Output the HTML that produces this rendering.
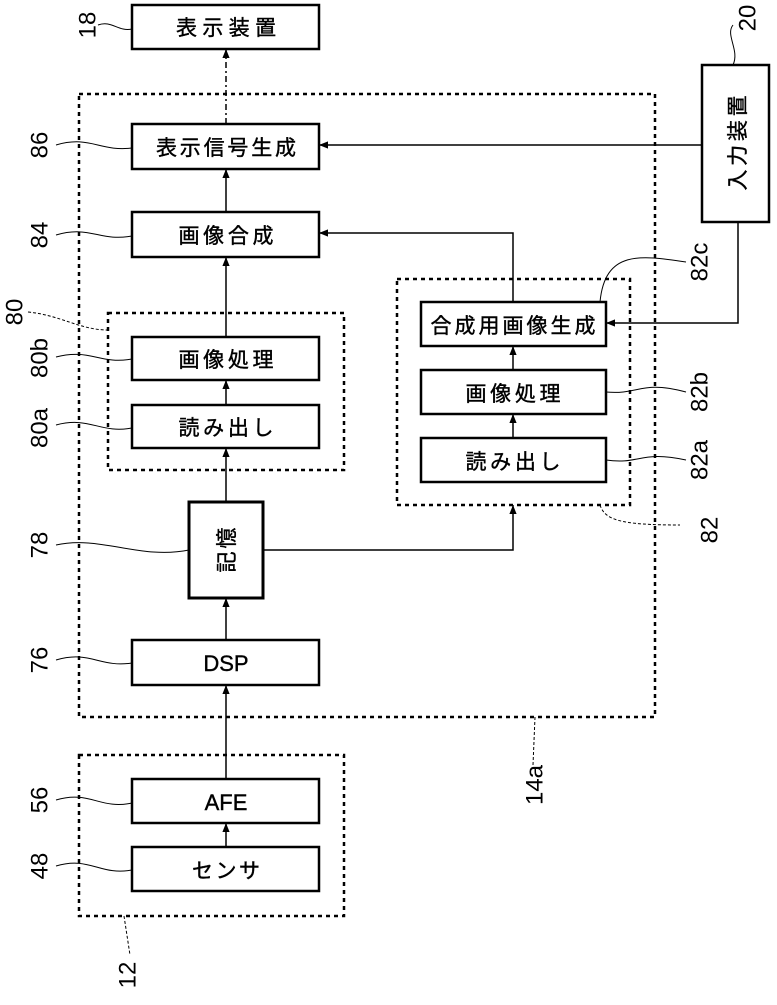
<!DOCTYPE html>
<html><head><meta charset="utf-8"><style>
html,body{margin:0;padding:0;background:#fff;}
svg{display:block;}
text{font-family:"Liberation Sans","Noto Sans CJK JP",sans-serif;fill:#000;}
</style></head><body>
<svg width="777" height="1005" viewBox="0 0 777 1005" xmlns="http://www.w3.org/2000/svg">
<defs>
<marker id="a" viewBox="0 0 10 10" refX="10" refY="5" markerWidth="6" markerHeight="6" orient="auto"><path d="M0,1 L10,5 L0,9 z" fill="#000"/></marker>
</defs>
<g fill="none" stroke="#000">
<rect x="79" y="94" width="576" height="623" stroke-width="2.5" stroke-dasharray="4,4"/>
<rect x="108" y="313" width="236" height="157" stroke-width="2.5" stroke-dasharray="4,4"/>
<rect x="397" y="279" width="233" height="226" stroke-width="2.5" stroke-dasharray="4,4"/>
<rect x="79" y="755" width="265" height="161" stroke-width="2.5" stroke-dasharray="4,4"/>
<g stroke-width="2.5">
<rect x="132" y="5" width="187" height="44"/>
<rect x="132" y="124" width="187" height="45"/>
<rect x="132" y="212" width="187" height="45"/>
<rect x="132" y="337" width="187" height="43"/>
<rect x="132" y="405" width="187" height="43"/>
<rect x="189" y="502" width="74" height="96" stroke-width="3"/>
<rect x="132" y="640" width="187" height="45"/>
<rect x="132" y="779" width="187" height="44"/>
<rect x="132" y="847" width="187" height="44"/>
<rect x="421" y="302" width="185" height="44"/>
<rect x="421" y="370" width="185" height="44"/>
<rect x="421" y="438" width="185" height="44"/>
<rect x="702" y="65" width="67" height="157"/>
</g>
<g stroke-width="1.5" marker-end="url(#a)">
<line x1="226" y1="847" x2="226" y2="823"/>
<line x1="226" y1="779" x2="226" y2="685"/>
<line x1="226" y1="640" x2="226" y2="598"/>
<line x1="226" y1="502" x2="226" y2="448"/>
<line x1="226" y1="405" x2="226" y2="380"/>
<line x1="226" y1="337" x2="226" y2="257"/>
<line x1="226" y1="212" x2="226" y2="169"/>
<line x1="226" y1="124" x2="226" y2="49" stroke-dasharray="6,3,2,3"/>
<polyline points="263,550 513,550 513,505"/>
<line x1="513" y1="438" x2="513" y2="414"/>
<line x1="513" y1="370" x2="513" y2="346"/>
<polyline points="513,302 513,233 319,233"/>
<line x1="702" y1="145" x2="319" y2="145"/>
<polyline points="738,222 738,323 606,323"/>
</g>
<g stroke-width="1">
<path d="M98,25 C112,20 118,32 132,29"/>
<path d="M56,145 C90,135 100,152 132,148"/>
<path d="M56,235 C90,225 100,242 132,236"/>
<path d="M56,357 C90,348 100,365 132,359"/>
<path d="M56,425 C90,416 100,434 132,428"/>
<path d="M56,545 C100,535 140,560 189,550"/>
<path d="M56,660 C90,650 100,668 132,663"/>
<path d="M56,800 C90,790 100,810 132,803"/>
<path d="M56,866 C90,856 100,876 132,870"/>
<path d="M686,262 C640,255 605,250 600,302"/>
<path d="M686,392 C640,380 640,395 606,392"/>
<path d="M686,460 C640,450 640,465 606,460"/>
<path d="M733,25 C725,35 740,50 733,65"/>
<path d="M28,312 C60,315 80,330 108,330" stroke-dasharray="3,2"/>
<path d="M600,505 C605,520 620,525 680,525" stroke-dasharray="3,2"/>
<path d="M535,717 L533,765" stroke-dasharray="3,2"/>
<path d="M124,916 L130,955" stroke-dasharray="3,2"/>
</g>
</g>
<g font-size="21" text-anchor="middle" stroke="#000" stroke-width="0.4">
<text x="226" y="35" textLength="100" lengthAdjust="spacing">表示装置</text>
<text x="226" y="155" textLength="140" lengthAdjust="spacing">表示信号生成</text>
<text x="226" y="243" textLength="95" lengthAdjust="spacing">画像合成</text>
<text x="226" y="367" textLength="95" lengthAdjust="spacing">画像処理</text>
<text x="226" y="435" textLength="95" lengthAdjust="spacing">読み出し</text>
<text x="226" y="671" font-size="22">DSP</text>
<text x="226" y="810" font-size="22">AFE</text>
<text x="226" y="878" textLength="68" lengthAdjust="spacing">センサ</text>
<text x="513" y="333" textLength="165" lengthAdjust="spacing">合成用画像生成</text>
<text x="513" y="401" textLength="95" lengthAdjust="spacing">画像処理</text>
<text x="513" y="469" textLength="95" lengthAdjust="spacing">読み出し</text>
<text transform="translate(234,550) rotate(-90)" textLength="45" lengthAdjust="spacing">記憶</text>
<text transform="translate(745,143) rotate(-90)" textLength="95" lengthAdjust="spacing">入力装置</text>
</g>
<g font-size="24" text-anchor="middle">
<text transform="translate(88,25) rotate(-90)" dominant-baseline="central">18</text>
<text transform="translate(40,145) rotate(-90)" dominant-baseline="central">86</text>
<text transform="translate(40,235) rotate(-90)" dominant-baseline="central">84</text>
<text transform="translate(15,312) rotate(-90)" dominant-baseline="central">80</text>
<text transform="translate(40,358) rotate(-90)" dominant-baseline="central">80b</text>
<text transform="translate(40,428) rotate(-90)" dominant-baseline="central">80a</text>
<text transform="translate(40,545) rotate(-90)" dominant-baseline="central">78</text>
<text transform="translate(40,660) rotate(-90)" dominant-baseline="central">76</text>
<text transform="translate(40,800) rotate(-90)" dominant-baseline="central">56</text>
<text transform="translate(40,866) rotate(-90)" dominant-baseline="central">48</text>
<text transform="translate(128,975) rotate(-90)" dominant-baseline="central">12</text>
<text transform="translate(535,785) rotate(-90)" dominant-baseline="central">14a</text>
<text transform="translate(700,262) rotate(-90)" dominant-baseline="central">82c</text>
<text transform="translate(700,392) rotate(-90)" dominant-baseline="central">82b</text>
<text transform="translate(700,460) rotate(-90)" dominant-baseline="central">82a</text>
<text transform="translate(710,530) rotate(-90)" dominant-baseline="central">82</text>
<text transform="translate(748,18) rotate(-90)" dominant-baseline="central">20</text>
</g>
</svg>
</body></html>
